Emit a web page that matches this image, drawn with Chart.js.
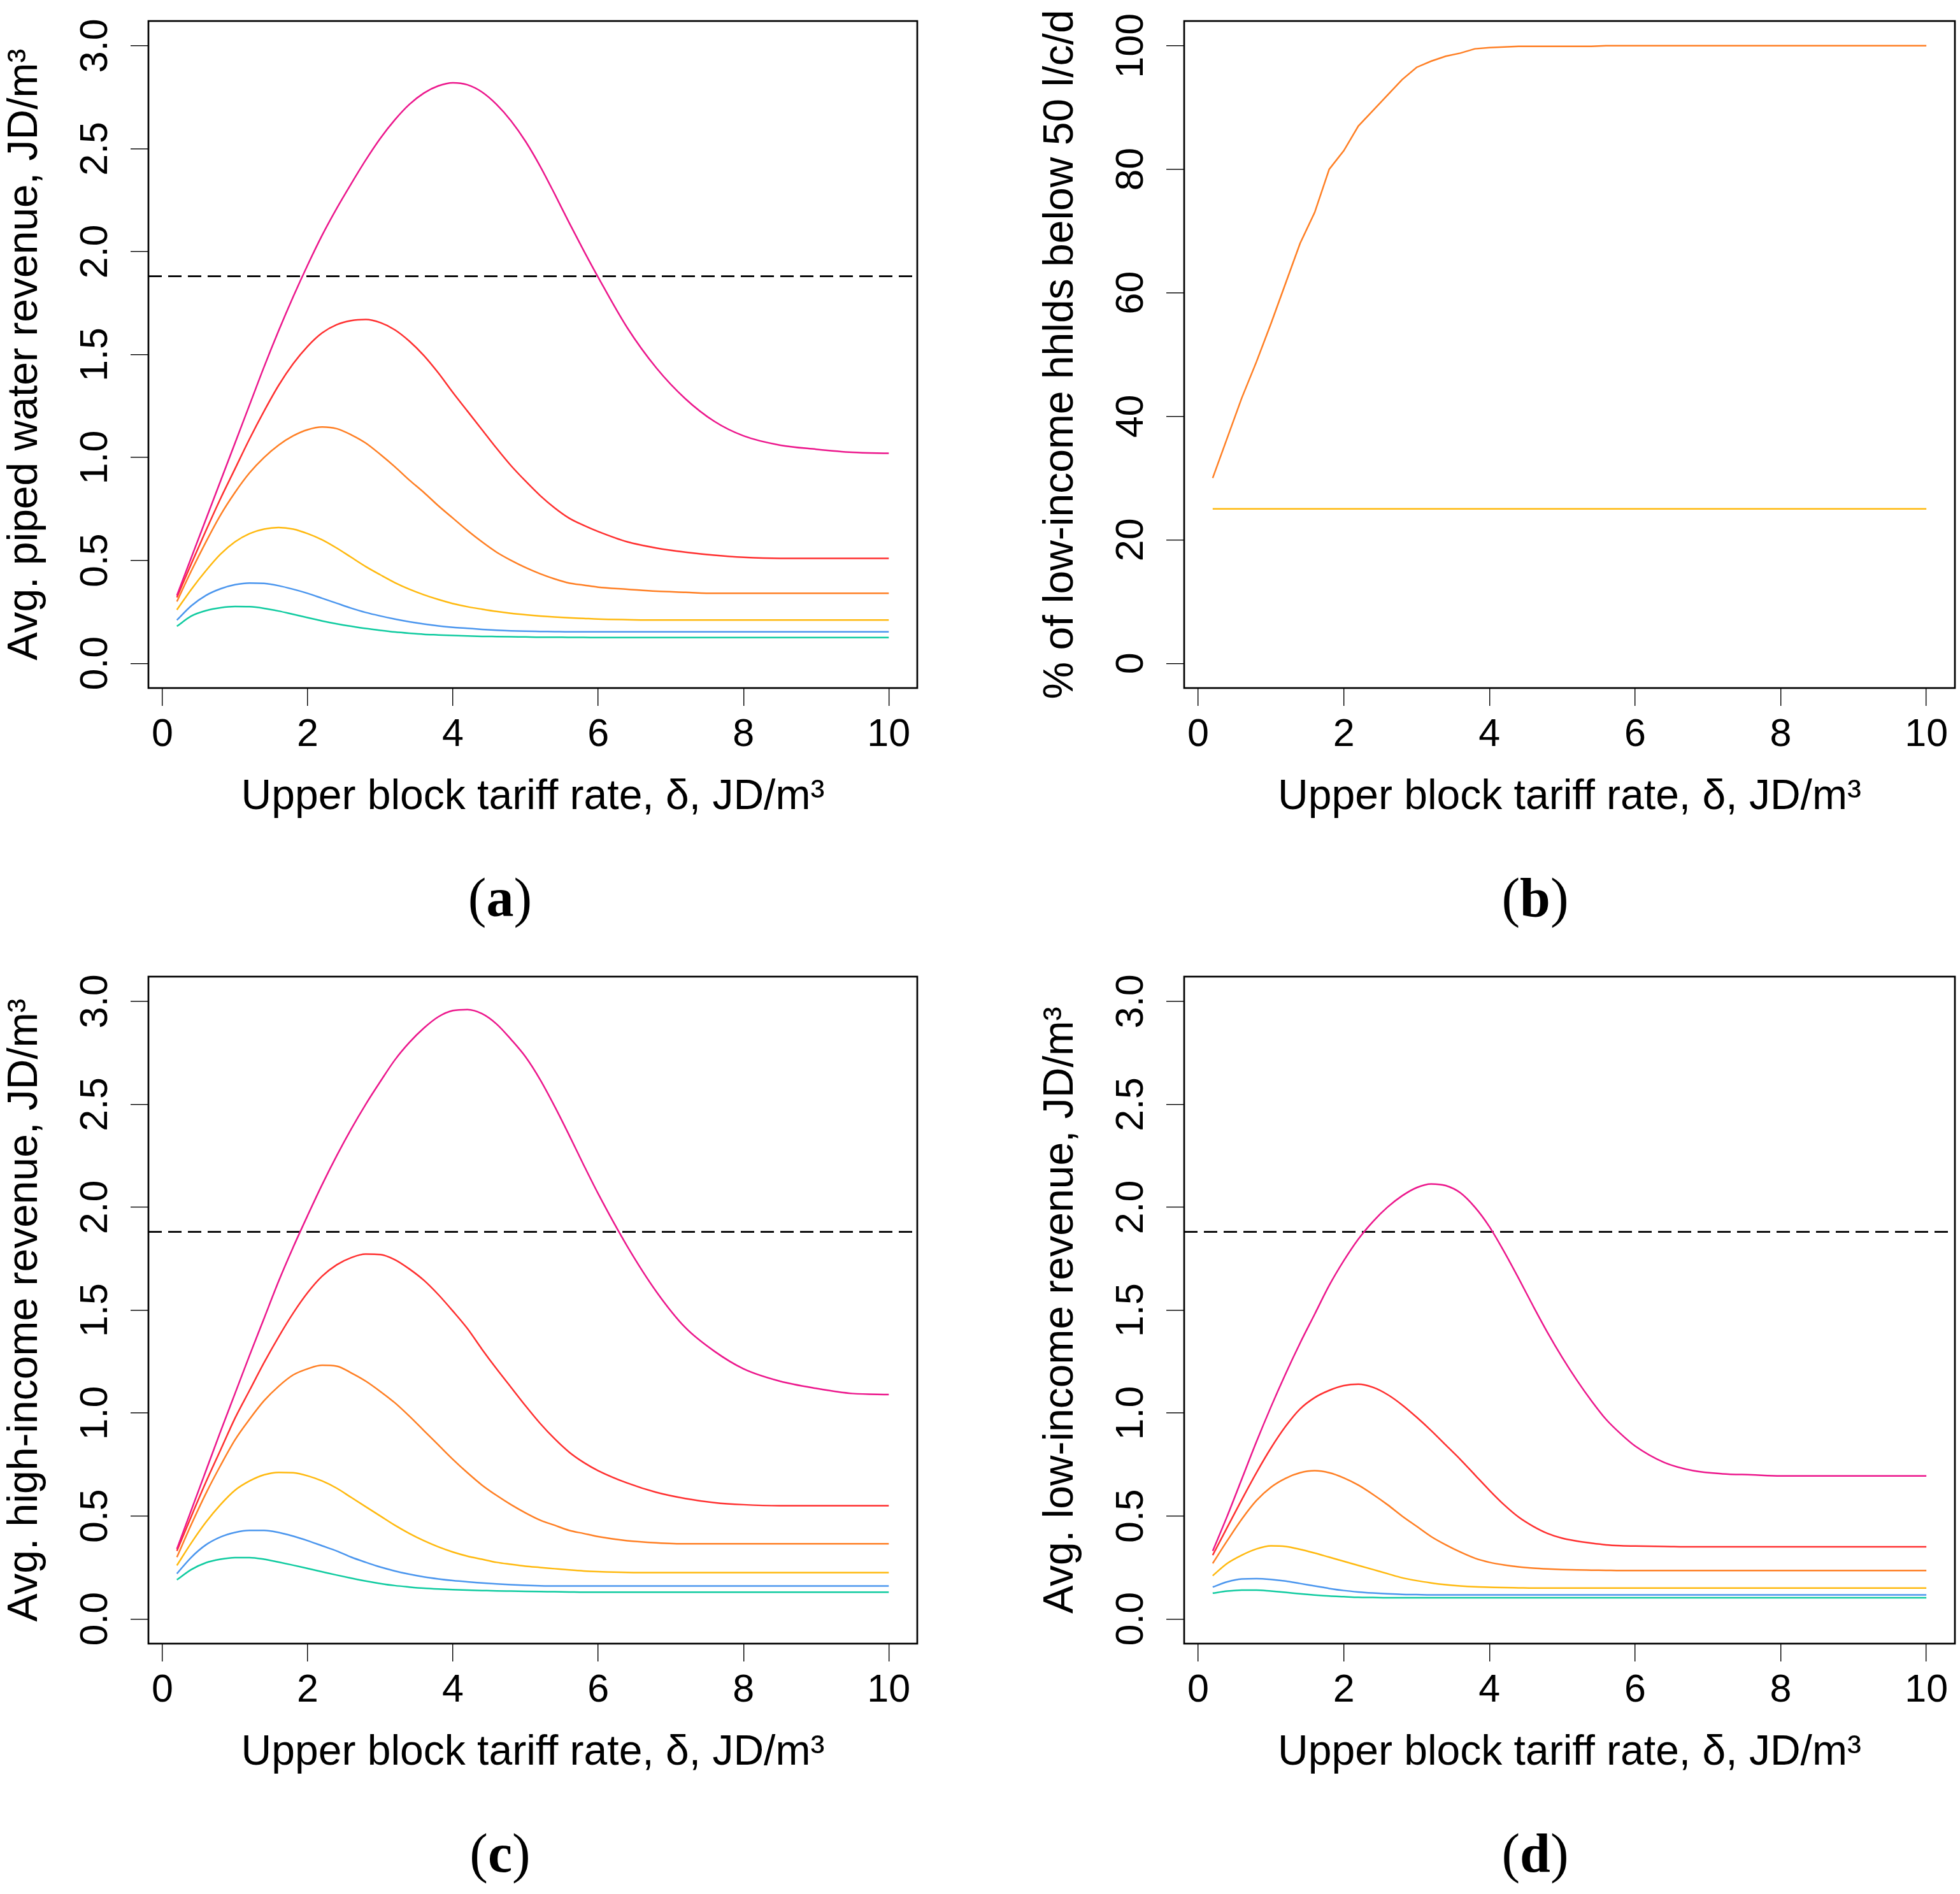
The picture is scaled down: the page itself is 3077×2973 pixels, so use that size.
<!DOCTYPE html>
<html>
<head>
<meta charset="utf-8">
<script src="https://cdn.jsdelivr.net/npm/chart.js@4.4.1/dist/chart.umd.min.js"></script>
<style>
  html, body { margin: 0; padding: 0; background: #fff; }
  body { width: 3077px; height: 2973px; position: relative; overflow: hidden; }
  canvas { position: absolute; }
  .cap {
    position: absolute; width: 400px; text-align: center;
    font: 86px "Liberation Serif", serif; line-height: 86px; color: #000;
  }
  .cap b { font-weight: bold; }
</style>
</head>
<body>
<canvas id="panelA" width="1540" height="1300" style="left:0;top:0;width:1540px;height:1300px"></canvas>
<canvas id="panelB" width="1451" height="1300" style="left:1626px;top:0;width:1451px;height:1300px"></canvas>
<canvas id="panelC" width="1540" height="1300" style="left:0;top:1500px;width:1540px;height:1300px"></canvas>
<canvas id="panelD" width="1451" height="1300" style="left:1626px;top:1500px;width:1451px;height:1300px"></canvas>
<div class="cap" style="left:585px;top:1366px">(<b>a</b>)</div>
<div class="cap" style="left:2210px;top:1366px">(<b>b</b>)</div>
<div class="cap" style="left:585px;top:2866px">(<b>c</b>)</div>
<div class="cap" style="left:2210px;top:2866px">(<b>d</b>)</div>

<script>
// Upper block tariff rate (x) shared by every series
const tariff = [0.2, 0.4, 0.6, 0.8, 1.0, 1.2, 1.4, 1.6, 1.8, 2.0,
  2.2, 2.4, 2.6, 2.8, 3.0, 3.2, 3.4, 3.6, 3.8, 4.0,
  4.2, 4.4, 4.6, 4.8, 5.0, 5.2, 5.4, 5.6, 5.8, 6.0,
  6.4, 6.8, 7.2, 7.6, 8.0, 8.5, 9.0, 9.5, 10.0];

const xTicks = [0, 2, 4, 6, 8, 10];
const revenueTicks = [0, 0.5, 1.0, 1.5, 2.0, 2.5, 3.0];
const percentTicks = [0, 20, 40, 60, 80, 100];
const targetRevenue = 1.88;

// (a) avg piped water revenue
const pipedMagenta = [0.33, 0.515, 0.70, 0.885, 1.07, 1.255, 1.44, 1.615, 1.78, 1.935,
  2.08, 2.21, 2.33, 2.445, 2.55, 2.64, 2.715, 2.77, 2.805, 2.82,
  2.81, 2.775, 2.715, 2.635, 2.535, 2.415, 2.28, 2.14, 2.005, 1.875,
  1.63, 1.435, 1.285, 1.175, 1.105, 1.06, 1.04, 1.025, 1.02];
const pipedRed = [0.32, 0.485, 0.645, 0.80, 0.945, 1.09, 1.225, 1.35, 1.455, 1.54,
  1.605, 1.645, 1.665, 1.67, 1.655, 1.62, 1.565, 1.495, 1.41, 1.315,
  1.225, 1.135, 1.045, 0.96, 0.885, 0.815, 0.755, 0.705, 0.67, 0.64,
  0.59, 0.56, 0.54, 0.525, 0.515, 0.51, 0.51, 0.51, 0.51];
const pipedOrange = [0.30, 0.45, 0.59, 0.72, 0.83, 0.925, 1.00, 1.06, 1.105, 1.135,
  1.148, 1.14, 1.11, 1.07, 1.015, 0.955, 0.89, 0.83, 0.765, 0.705,
  0.645, 0.59, 0.54, 0.50, 0.465, 0.435, 0.41, 0.39, 0.38, 0.37,
  0.36, 0.35, 0.345, 0.34, 0.34, 0.34, 0.34, 0.34, 0.34];
const pipedGold = [0.26, 0.36, 0.45, 0.53, 0.59, 0.63, 0.652, 0.66, 0.652, 0.63,
  0.60, 0.56, 0.515, 0.47, 0.43, 0.392, 0.36, 0.333, 0.31, 0.29,
  0.275, 0.263, 0.252, 0.243, 0.236, 0.23, 0.225, 0.221, 0.218, 0.215,
  0.212, 0.21, 0.21, 0.21, 0.21, 0.21, 0.21, 0.21, 0.21];
const pipedBlue = [0.21, 0.28, 0.33, 0.362, 0.382, 0.39, 0.388, 0.377, 0.36, 0.34,
  0.316, 0.292, 0.268, 0.247, 0.23, 0.215, 0.202, 0.191, 0.182, 0.175,
  0.17, 0.165, 0.161, 0.158, 0.156, 0.155, 0.154, 0.153, 0.153, 0.153,
  0.153, 0.153, 0.153, 0.153, 0.153, 0.153, 0.153, 0.153, 0.153];
const pipedTeal = [0.18, 0.23, 0.256, 0.27, 0.276, 0.275, 0.267, 0.254, 0.238, 0.222,
  0.206, 0.192, 0.18, 0.169, 0.16, 0.152, 0.146, 0.141, 0.138, 0.135,
  0.133, 0.131, 0.13, 0.129, 0.128, 0.127, 0.127, 0.126, 0.126, 0.125,
  0.125, 0.125, 0.125, 0.125, 0.125, 0.125, 0.125, 0.125, 0.125];

// (b) % of low-income households below 50 l/c/d
const belowOrange = [30, 36.5, 43, 48.8, 55, 61.5, 68, 73, 80, 83,
  87, 89.5, 92, 94.5, 96.5, 97.5, 98.3, 98.8, 99.5, 99.7,
  99.8, 99.9, 99.9, 99.9, 99.9, 99.9, 99.9, 100, 100, 100,
  100, 100, 100, 100, 100, 100, 100, 100, 100];
const belowGold = [25, 25, 25, 25, 25, 25, 25, 25, 25, 25,
  25, 25, 25, 25, 25, 25, 25, 25, 25, 25,
  25, 25, 25, 25, 25, 25, 25, 25, 25, 25,
  25, 25, 25, 25, 25, 25, 25, 25, 25];

// (c) avg high-income revenue
const highMagenta = [0.34, 0.53, 0.72, 0.91, 1.095, 1.28, 1.46, 1.64, 1.805, 1.96,
  2.11, 2.25, 2.38, 2.50, 2.61, 2.715, 2.80, 2.87, 2.925, 2.955,
  2.96, 2.94, 2.89, 2.815, 2.73, 2.62, 2.49, 2.35, 2.205, 2.065,
  1.81, 1.59, 1.415, 1.30, 1.215, 1.155, 1.12, 1.095, 1.09];
const highRed = [0.33, 0.50, 0.665, 0.82, 0.975, 1.11, 1.245, 1.37, 1.485, 1.585,
  1.665, 1.72, 1.755, 1.772, 1.77, 1.745, 1.70, 1.645, 1.575, 1.495,
  1.41, 1.31, 1.215, 1.125, 1.035, 0.95, 0.875, 0.81, 0.76, 0.72,
  0.66, 0.615, 0.585, 0.565, 0.555, 0.55, 0.55, 0.55, 0.55];
const highOrange = [0.30, 0.46, 0.61, 0.745, 0.87, 0.97, 1.06, 1.13, 1.185, 1.215,
  1.232, 1.228, 1.195, 1.155, 1.105, 1.05, 0.985, 0.915, 0.845, 0.775,
  0.71, 0.65, 0.60, 0.555, 0.515, 0.48, 0.455, 0.43, 0.415, 0.40,
  0.38, 0.37, 0.365, 0.365, 0.365, 0.365, 0.365, 0.365, 0.365];
const highGold = [0.26, 0.37, 0.47, 0.555, 0.625, 0.67, 0.70, 0.712, 0.71, 0.695,
  0.67, 0.635, 0.59, 0.545, 0.50, 0.455, 0.415, 0.38, 0.35, 0.325,
  0.305, 0.29, 0.275, 0.265, 0.256, 0.25, 0.244, 0.238, 0.233, 0.23,
  0.226, 0.225, 0.225, 0.225, 0.225, 0.225, 0.225, 0.225, 0.225];
const highBlue = [0.22, 0.30, 0.36, 0.398, 0.42, 0.43, 0.43, 0.42, 0.402, 0.38,
  0.355, 0.33, 0.30, 0.275, 0.252, 0.233, 0.217, 0.204, 0.194, 0.186,
  0.18, 0.175, 0.17, 0.166, 0.163, 0.161, 0.16, 0.16, 0.16, 0.16,
  0.16, 0.16, 0.16, 0.16, 0.16, 0.16, 0.16, 0.16, 0.16];
const highTeal = [0.19, 0.24, 0.273, 0.29, 0.298, 0.298, 0.29, 0.276, 0.261, 0.245,
  0.229, 0.213, 0.198, 0.184, 0.172, 0.162, 0.155, 0.149, 0.145, 0.142,
  0.14, 0.138, 0.136, 0.135, 0.134, 0.133, 0.132, 0.131, 0.13, 0.13,
  0.13, 0.13, 0.13, 0.13, 0.13, 0.13, 0.13, 0.13, 0.13];

// (d) avg low-income revenue
const lowMagenta = [0.33, 0.50, 0.68, 0.86, 1.03, 1.19, 1.34, 1.48, 1.62, 1.74,
  1.845, 1.93, 2.00, 2.055, 2.095, 2.113, 2.105, 2.07, 2.00, 1.905,
  1.785, 1.655, 1.52, 1.39, 1.27, 1.16, 1.06, 0.97, 0.90, 0.84,
  0.76, 0.72, 0.705, 0.70, 0.695, 0.695, 0.695, 0.695, 0.695];
const lowRed = [0.31, 0.445, 0.58, 0.71, 0.83, 0.935, 1.02, 1.075, 1.11, 1.133,
  1.14, 1.125, 1.09, 1.04, 0.98, 0.915, 0.845, 0.775, 0.70, 0.625,
  0.555, 0.495, 0.45, 0.415, 0.392, 0.378, 0.368, 0.36, 0.356, 0.354,
  0.352, 0.35, 0.35, 0.35, 0.35, 0.35, 0.35, 0.35, 0.35];
const lowOrange = [0.27, 0.38, 0.485, 0.575, 0.64, 0.683, 0.71, 0.72, 0.71, 0.685,
  0.65, 0.605, 0.555, 0.50, 0.45, 0.40, 0.36, 0.325, 0.295, 0.275,
  0.262, 0.253, 0.247, 0.243, 0.24, 0.238, 0.237, 0.236, 0.235, 0.235,
  0.235, 0.235, 0.235, 0.235, 0.235, 0.235, 0.235, 0.235, 0.235];
const lowGold = [0.21, 0.27, 0.31, 0.34, 0.355, 0.352, 0.338, 0.32, 0.30, 0.28,
  0.26, 0.24, 0.22, 0.2, 0.186, 0.175, 0.166, 0.16, 0.156, 0.154,
  0.152, 0.151, 0.15, 0.15, 0.15, 0.15, 0.15, 0.15, 0.15, 0.15,
  0.15, 0.15, 0.15, 0.15, 0.15, 0.15, 0.15, 0.15, 0.15];
const lowBlue = [0.155, 0.18, 0.194, 0.196, 0.192, 0.184, 0.172, 0.16, 0.148, 0.138,
  0.131, 0.126, 0.122, 0.119, 0.118, 0.117, 0.117, 0.117, 0.117, 0.117,
  0.117, 0.117, 0.117, 0.117, 0.117, 0.117, 0.117, 0.117, 0.117, 0.117,
  0.117, 0.117, 0.117, 0.117, 0.117, 0.117, 0.117, 0.117, 0.117];
const lowTeal = [0.125, 0.135, 0.14, 0.14, 0.135, 0.129, 0.122, 0.116, 0.111, 0.108,
  0.105, 0.104, 0.103, 0.103, 0.103, 0.103, 0.103, 0.103, 0.103, 0.103,
  0.103, 0.103, 0.103, 0.103, 0.103, 0.103, 0.103, 0.103, 0.103, 0.103,
  0.103, 0.103, 0.103, 0.103, 0.103, 0.103, 0.103, 0.103, 0.103];

const COLORS = {
  magenta: '#EC178C',
  red: '#FF3030',
  orange: '#FF7F24',
  gold: '#FFB90F',
  blue: '#4B96EE',
  teal: '#10CBA0'
};

const X_MIN = -0.192, X_MAX = 10.392;
const TICK_FONT = 61, TITLE_FONT = 66, TICK_LEN = 28;
const FONT_FAMILY = '"Liberation Sans", Arial, sans-serif';
const X_TITLE = 'Upper block tariff rate, \u03b4, JD/m\u00b3';

// frame round the plot region, like R's box()
const boxPlugin = {
  id: 'box',
  afterDraw(chart) {
    const { ctx, chartArea: a } = chart;
    ctx.save();
    ctx.strokeStyle = '#000';
    ctx.lineWidth = 2.7;
    ctx.strokeRect(a.left, a.top, a.right - a.left, a.bottom - a.top);
    ctx.restore();
  }
};

function textWidth(labels) {
  const c = document.createElement('canvas').getContext('2d');
  c.font = TICK_FONT + 'px ' + FONT_FAMILY;
  return Math.max(...labels.map(l => c.measureText(l).width));
}

function lineSet(values, color, smooth) {
  return {
    data: tariff.map((x, i) => ({ x: x, y: values[i] })),
    borderColor: color,
    borderWidth: 2.5,
    pointRadius: 0,
    fill: false,
    cubicInterpolationMode: smooth ? 'monotone' : 'default',
    tension: 0
  };
}

function makePanel(id, { series, yMin, yMax, yTicks, digits, yTitle, dashed, smooth, boxLeft, boxRight }) {
  const canvas = document.getElementById(id);
  const W = canvas.width, H = canvas.height;
  const boxTop = 33, boxBottom = 1080;
  const yLabels = yTicks.map(v => v.toFixed(digits));
  const yPad = 81.5 - TICK_LEN - textWidth(yLabels) / 2;

  const datasets = series.map(s => lineSet(s.values, s.color, smooth));
  if (dashed) {
    datasets.push({
      data: [{ x: X_MIN, y: targetRevenue }, { x: X_MAX, y: targetRevenue }],
      borderColor: '#000',
      borderWidth: 2.7,
      borderDash: [21, 10],
      pointRadius: 0,
      fill: false
    });
  }

  return new Chart(canvas, {
    type: 'line',
    data: { datasets },
    options: {
      responsive: false,
      devicePixelRatio: 1,
      animation: false,
      layout: { padding: { left: 0, top: boxTop, right: W - boxRight, bottom: 0 } },
      plugins: { legend: { display: false }, tooltip: { enabled: false } },
      scales: {
        x: {
          type: 'linear',
          min: X_MIN,
          max: X_MAX,
          afterBuildTicks: s => { s.ticks = xTicks.map(v => ({ value: v })); },
          afterFit: s => { s.height = H - boxBottom; s.paddingLeft = 0; s.paddingRight = 0; },
          grid: { drawOnChartArea: false, drawTicks: true, tickLength: TICK_LEN, color: '#000', lineWidth: 1.4 },
          border: { display: false },
          ticks: {
            color: '#000',
            font: { family: FONT_FAMILY, size: TICK_FONT },
            padding: 10,
            maxRotation: 0,
            autoSkip: false,
            callback: v => String(v)
          },
          title: {
            display: true,
            text: X_TITLE,
            color: '#000',
            font: { family: FONT_FAMILY, size: TITLE_FONT },
            padding: { top: 0, bottom: 9 }
          }
        },
        y: {
          type: 'linear',
          min: yMin,
          max: yMax,
          afterBuildTicks: s => { s.ticks = yTicks.map(v => ({ value: v })); },
          afterFit: s => { s.width = boxLeft; s.paddingTop = 0; s.paddingBottom = 0; },
          grid: { drawOnChartArea: false, drawTicks: true, tickLength: TICK_LEN, color: '#000', lineWidth: 1.4 },
          border: { display: false },
          ticks: {
            color: '#000',
            font: { family: FONT_FAMILY, size: TICK_FONT },
            padding: yPad,
            minRotation: 90,
            maxRotation: 90,
            crossAlign: 'center',
            autoSkip: false,
            callback: v => Number(v).toFixed(digits)
          },
          title: {
            display: true,
            text: yTitle,
            color: '#000',
            font: { family: FONT_FAMILY, size: TITLE_FONT },
            padding: { top: 0, bottom: 0 }
          }
        }
      }
    },
    plugins: [boxPlugin]
  });
}

const revenueRange = { yMin: -0.12, yMax: 3.12, yTicks: revenueTicks, digits: 1, dashed: true, smooth: true };

makePanel('panelA', Object.assign({}, revenueRange, {
  yTitle: 'Avg. piped water revenue, JD/m\u00b3',
  boxLeft: 233, boxRight: 1440,
  series: [
    { values: pipedMagenta, color: COLORS.magenta },
    { values: pipedRed, color: COLORS.red },
    { values: pipedOrange, color: COLORS.orange },
    { values: pipedGold, color: COLORS.gold },
    { values: pipedBlue, color: COLORS.blue },
    { values: pipedTeal, color: COLORS.teal }
  ]
}));

makePanel('panelB', {
  yMin: -4, yMax: 104, yTicks: percentTicks, digits: 0, dashed: false, smooth: false,
  yTitle: '% of low-income hhlds below 50 l/c/d',
  boxLeft: 233, boxRight: 1443,
  series: [
    { values: belowOrange, color: COLORS.orange },
    { values: belowGold, color: COLORS.gold }
  ]
});

makePanel('panelC', Object.assign({}, revenueRange, {
  yTitle: 'Avg. high-income revenue, JD/m\u00b3',
  boxLeft: 233, boxRight: 1440,
  series: [
    { values: highMagenta, color: COLORS.magenta },
    { values: highRed, color: COLORS.red },
    { values: highOrange, color: COLORS.orange },
    { values: highGold, color: COLORS.gold },
    { values: highBlue, color: COLORS.blue },
    { values: highTeal, color: COLORS.teal }
  ]
}));

makePanel('panelD', Object.assign({}, revenueRange, {
  yTitle: 'Avg. low-income revenue, JD/m\u00b3',
  boxLeft: 233, boxRight: 1443,
  series: [
    { values: lowMagenta, color: COLORS.magenta },
    { values: lowRed, color: COLORS.red },
    { values: lowOrange, color: COLORS.orange },
    { values: lowGold, color: COLORS.gold },
    { values: lowBlue, color: COLORS.blue },
    { values: lowTeal, color: COLORS.teal }
  ]
}));
</script>
</body>
</html>
